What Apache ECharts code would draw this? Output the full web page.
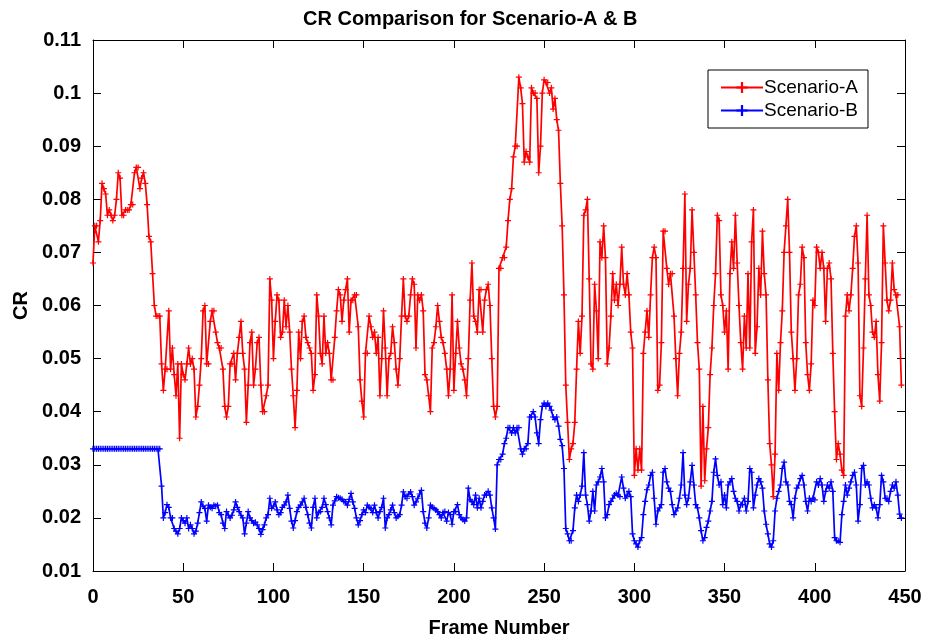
<!DOCTYPE html>
<html>
<head>
<meta charset="utf-8">
<script src="https://cdn.jsdelivr.net/npm/echarts@6/dist/echarts.min.js"></script>
<style>
html,body{margin:0;padding:0;background:#fff;}
#chart{width:925px;height:643px;}
</style>
</head>
<body>
<div id="chart"></div>
<script>
var titleText = 'CR Comparison for Scenario-A & B';
var xName = 'Frame Number';
var yName = 'CR';
var seriesNames = ['Scenario-A', 'Scenario-B'];
var xTicks = [0, 50, 100, 150, 200, 250, 300, 350, 400, 450];
var yTicks = [0.01, 0.02, 0.03, 0.04, 0.05, 0.06, 0.07, 0.08, 0.09, 0.1, 0.11];

var scenarioA = [
0.068,0.075,0.075,0.072,0.076,0.083,0.082,0.081,0.077,0.078,
0.077,0.076,0.077,0.080,0.085,0.084,0.077,0.077,0.078,0.078,
0.078,0.079,0.079,0.085,0.086,0.086,0.082,0.084,0.085,0.083,
0.079,0.073,0.072,0.066,0.060,0.058,0.058,0.058,0.049,0.044,
0.048,0.048,0.059,0.048,0.052,0.047,0.043,0.049,0.035,0.049,
0.047,0.046,0.049,0.052,0.049,0.050,0.048,0.039,0.041,0.045,
0.050,0.059,0.060,0.049,0.049,0.057,0.059,0.059,0.055,0.053,
0.052,0.052,0.048,0.041,0.039,0.041,0.049,0.049,0.051,0.046,
0.051,0.054,0.057,0.051,0.048,0.038,0.045,0.053,0.055,0.045,
0.048,0.053,0.054,0.045,0.040,0.040,0.043,0.045,0.065,0.061,
0.050,0.057,0.062,0.061,0.054,0.055,0.061,0.056,0.060,0.055,
0.048,0.043,0.037,0.044,0.055,0.050,0.057,0.058,0.054,0.053,
0.052,0.051,0.044,0.047,0.062,0.058,0.051,0.049,0.058,0.051,
0.053,0.051,0.046,0.046,0.054,0.059,0.063,0.062,0.057,0.061,
0.063,0.065,0.055,0.061,0.061,0.062,0.062,0.056,0.046,0.042,
0.039,0.051,0.051,0.058,0.056,0.054,0.055,0.051,0.054,0.043,
0.050,0.059,0.052,0.043,0.050,0.051,0.056,0.053,0.048,0.045,
0.050,0.058,0.065,0.058,0.057,0.058,0.062,0.065,0.064,0.052,
0.062,0.061,0.062,0.059,0.047,0.046,0.043,0.040,0.052,0.053,
0.056,0.060,0.057,0.054,0.053,0.051,0.048,0.043,0.048,0.062,
0.044,0.051,0.057,0.052,0.049,0.048,0.046,0.043,0.050,0.061,
0.068,0.058,0.057,0.055,0.063,0.063,0.055,0.061,0.063,0.064,
0.060,0.050,0.041,0.039,0.041,0.067,0.067,0.069,0.069,0.071,
0.076,0.080,0.082,0.088,0.090,0.090,0.103,0.101,0.098,0.087,
0.089,0.088,0.087,0.101,0.100,0.100,0.099,0.085,0.090,0.100,
0.1025,0.102,0.102,0.100,0.101,0.097,0.099,0.095,0.093,0.083,
0.075,0.062,0.045,0.038,0.031,0.033,0.034,0.038,0.048,0.057,
0.051,0.058,0.077,0.078,0.080,0.065,0.049,0.048,0.064,0.059,
0.050,0.072,0.069,0.075,0.069,0.049,0.052,0.058,0.066,0.061,
0.064,0.060,0.064,0.071,0.064,0.062,0.066,0.062,0.055,0.052,
0.028,0.033,0.029,0.033,0.029,0.051,0.055,0.059,0.054,0.062,
0.069,0.071,0.069,0.044,0.045,0.053,0.074,0.074,0.067,0.064,
0.066,0.066,0.058,0.050,0.043,0.051,0.055,0.067,0.081,0.057,
0.064,0.067,0.078,0.070,0.062,0.053,0.048,0.026,0.041,0.027,
0.033,0.037,0.047,0.052,0.060,0.066,0.077,0.076,0.062,0.060,
0.055,0.059,0.048,0.066,0.072,0.067,0.077,0.068,0.060,0.053,
0.048,0.058,0.052,0.066,0.052,0.072,0.078,0.051,0.056,0.067,
0.062,0.074,0.066,0.062,0.046,0.034,0.030,0.024,0.032,0.051,
0.044,0.053,0.059,0.070,0.075,0.080,0.070,0.055,0.050,0.044,
0.050,0.062,0.064,0.071,0.069,0.053,0.047,0.044,0.049,0.061,
0.060,0.071,0.070,0.067,0.070,0.067,0.057,0.067,0.068,0.065,
0.051,0.040,0.031,0.034,0.032,0.029,0.028,0.058,0.062,0.059,
0.062,0.067,0.073,0.075,0.068,0.043,0.041,0.052,0.065,0.077,
0.062,0.060,0.055,0.054,0.057,0.047,0.042,0.053,0.075,0.068,
0.061,0.059,0.061,0.068,0.063,0.062,0.062,0.056,0.045
];

var scenarioB = [
0.033,0.033,0.033,0.033,0.033,0.033,0.033,0.033,0.033,0.033,
0.033,0.033,0.033,0.033,0.033,0.033,0.033,0.033,0.033,0.033,
0.033,0.033,0.033,0.033,0.033,0.033,0.033,0.033,0.033,0.033,
0.033,0.033,0.033,0.033,0.033,0.033,0.033,0.033,0.026,0.020,
0.021,0.0225,0.022,0.020,0.020,0.018,0.0175,0.017,0.018,0.020,
0.0195,0.019,0.020,0.018,0.0187,0.018,0.017,0.0175,0.019,0.021,
0.023,0.0222,0.0218,0.0194,0.0224,0.022,0.0218,0.0224,0.0222,0.0224,
0.021,0.0206,0.019,0.018,0.0212,0.0205,0.020,0.0205,0.0215,0.023,
0.022,0.0212,0.0205,0.020,0.017,0.019,0.0212,0.020,0.0195,0.019,
0.0192,0.0187,0.018,0.0169,0.0178,0.0187,0.020,0.0206,0.0237,0.0218,
0.0222,0.023,0.0215,0.0206,0.021,0.022,0.0224,0.023,0.0243,0.0218,
0.0194,0.0181,0.0195,0.0212,0.022,0.0224,0.023,0.0237,0.022,0.0206,
0.019,0.0181,0.022,0.0237,0.020,0.021,0.0212,0.022,0.0237,0.0225,
0.0212,0.020,0.0187,0.0224,0.0232,0.024,0.0238,0.0237,0.0235,0.0231,
0.023,0.0224,0.0235,0.0246,0.023,0.0218,0.020,0.0187,0.0195,0.0206,
0.0215,0.021,0.0224,0.022,0.0218,0.021,0.0224,0.021,0.020,0.0212,
0.022,0.0237,0.0181,0.020,0.0206,0.0215,0.0224,0.021,0.020,0.0203,
0.0206,0.0224,0.0249,0.024,0.0237,0.0245,0.0249,0.024,0.0224,0.023,
0.0237,0.0245,0.0252,0.0212,0.019,0.0181,0.020,0.0224,0.022,0.0218,
0.0215,0.0212,0.0206,0.020,0.021,0.0212,0.0194,0.021,0.0206,0.0188,
0.0212,0.0212,0.0225,0.0206,0.020,0.0197,0.0194,0.020,0.0256,0.0234,
0.0231,0.0225,0.0243,0.0219,0.0237,0.0219,0.0231,0.0243,0.0243,0.025,
0.0243,0.0219,0.020,0.0179,0.030,0.031,0.031,0.032,0.034,0.035,
0.037,0.037,0.036,0.037,0.036,0.037,0.037,0.033,0.032,0.033,
0.033,0.034,0.039,0.039,0.040,0.039,0.036,0.034,0.0385,0.041,
0.0416,0.041,0.0416,0.041,0.0403,0.039,0.0385,0.039,0.0373,0.0348,
0.0336,0.0293,0.018,0.017,0.0157,0.0157,0.0176,0.0219,0.0243,0.0231,
0.0243,0.026,0.0323,0.0243,0.0225,0.0194,0.0213,0.025,0.0213,0.0262,
0.0268,0.0277,0.0293,0.0268,0.020,0.0206,0.0225,0.0231,0.0237,0.0243,
0.0246,0.0243,0.024,0.0277,0.0256,0.0237,0.0243,0.025,0.024,0.017,
0.0157,0.0151,0.0145,0.0157,0.0163,0.0206,0.0231,0.0253,0.0262,0.028,
0.0286,0.0237,0.0188,0.0213,0.0219,0.0225,0.0286,0.0293,0.0268,0.0256,
0.025,0.0225,0.0206,0.0213,0.0219,0.0237,0.0262,0.0323,0.0243,0.0225,
0.0237,0.0268,0.0299,0.0262,0.0225,0.0219,0.020,0.0176,0.0157,0.0163,
0.0182,0.0194,0.0213,0.0231,0.0286,0.0311,0.028,0.0262,0.0268,0.0225,
0.0243,0.0219,0.0262,0.0268,0.0274,0.025,0.0237,0.0231,0.0213,0.0225,
0.0225,0.0237,0.0213,0.0231,0.0293,0.0286,0.0219,0.0243,0.0262,0.0274,
0.0268,0.0256,0.0213,0.0188,0.017,0.0151,0.0145,0.0157,0.0213,0.0237,
0.025,0.0262,0.0293,0.0305,0.0268,0.0262,0.0231,0.0225,0.020,0.0237,
0.0256,0.0262,0.0274,0.028,0.0262,0.0231,0.0213,0.0237,0.0231,0.0237,
0.0234,0.0268,0.0262,0.0274,0.0262,0.0231,0.025,0.0262,0.0256,0.0268,
0.025,0.0163,0.0157,0.0157,0.0154,0.0206,0.0231,0.0262,0.0243,0.0256,
0.0268,0.028,0.0286,0.0262,0.0194,0.0225,0.0293,0.0299,0.0262,0.0268,
0.0262,0.0237,0.0219,0.0225,0.0219,0.020,0.0225,0.028,0.0268,0.0237,
0.0237,0.0231,0.025,0.0262,0.0256,0.0268,0.0243,0.0207,0.020
];

function toPairs(arr) {
  return arr.map(function (v, i) { return [i, v]; });
}

var FONT = 'Liberation Sans, Arial, sans-serif';
var plusSymbol = 'path://M2,0H3V2H5V3H3V5H2V3H0V2H2Z';

var chart = echarts.init(document.getElementById('chart'), null, {renderer: 'canvas'});

function yFmt(v) { return String(parseFloat(v.toFixed(2))); }

var axisCommon = {
  axisLine: {show: true, onZero: false, lineStyle: {color: '#000', width: 1}},
  axisTick: {show: true, inside: true, length: 8, lineStyle: {color: '#000', width: 1}},
  splitLine: {show: false}
};

var option = {
  animation: false,
  backgroundColor: '#fff',
  title: {
    text: titleText,
    left: 298, top: 4,
    textStyle: {fontFamily: FONT, fontWeight: 'bold', fontSize: 20, color: '#000'}
  },
  legend: {
    data: seriesNames,
    orient: 'vertical',
    left: 708, top: 70,
    width: 165,
    padding: [8, 10, 8, 12],
    itemGap: 4,
    itemWidth: 42,
    itemHeight: 14,
    backgroundColor: '#fff',
    borderColor: '#000',
    borderWidth: 1,
    textStyle: {fontFamily: FONT, fontSize: 19, color: '#000', padding: [0, 0, 0, -4]}
  },
  grid: {left: 93, right: 20, top: 40, bottom: 69, containLabel: false},
  xAxis: [
    Object.assign({}, axisCommon, {
      type: 'value', position: 'bottom', min: xTicks[0], max: xTicks[xTicks.length - 1], interval: 50,
      name: xName, nameLocation: 'middle', nameGap: 47,
      nameTextStyle: {fontFamily: FONT, fontWeight: 'bold', fontSize: 20, color: '#000'},
      axisLabel: {show: true, margin: 16, fontFamily: FONT, fontWeight: 'bold', fontSize: 20, color: '#000'}
    }),
    Object.assign({}, axisCommon, {
      type: 'value', position: 'top', min: xTicks[0], max: xTicks[xTicks.length - 1], interval: 50,
      axisLabel: {show: false}
    })
  ],
  yAxis: [
    Object.assign({}, axisCommon, {
      type: 'value', position: 'left', min: yTicks[0], max: yTicks[yTicks.length - 1], interval: 0.01,
      name: yName, nameLocation: 'middle', nameGap: 60,
      nameTextStyle: {fontFamily: FONT, fontWeight: 'bold', fontSize: 20, color: '#000'},
      axisLabel: {show: true, margin: 12, fontFamily: FONT, fontWeight: 'bold', fontSize: 20, color: '#000', formatter: yFmt}
    }),
    Object.assign({}, axisCommon, {
      type: 'value', position: 'right', min: yTicks[0], max: yTicks[yTicks.length - 1], interval: 0.01,
      axisLabel: {show: false}
    })
  ],
  series: [
    {
      name: seriesNames[0], type: 'line', xAxisIndex: 0, yAxisIndex: 0,
      data: toPairs(scenarioA),
      symbol: plusSymbol, symbolSize: 6, showSymbol: true,
      color: '#ff0000',
      lineStyle: {color: '#ff0000', width: 1.7},
      itemStyle: {color: '#ff0000'}
    },
    {
      name: seriesNames[1], type: 'line', xAxisIndex: 0, yAxisIndex: 0,
      data: toPairs(scenarioB),
      symbol: plusSymbol, symbolSize: 6, showSymbol: true,
      color: '#0000ff',
      lineStyle: {color: '#0000ff', width: 1.7},
      itemStyle: {color: '#0000ff'}
    }
  ]
};
chart.setOption(option);
</script>
</body>
</html>
